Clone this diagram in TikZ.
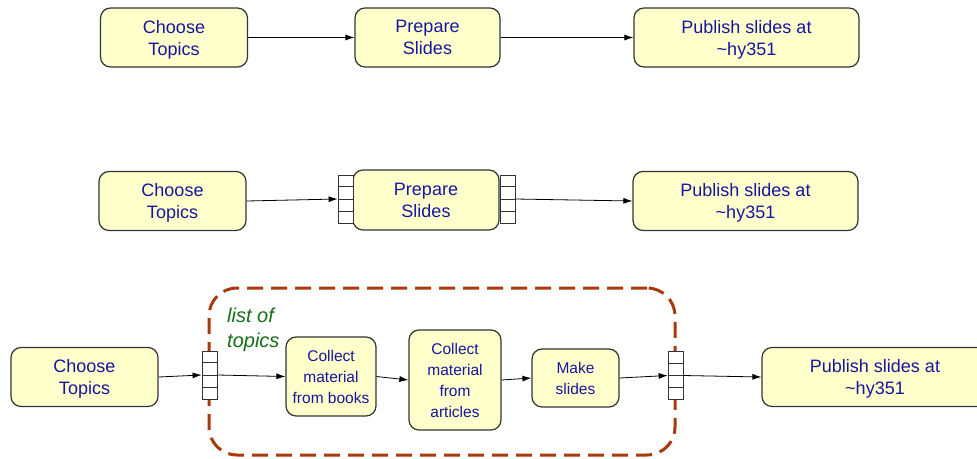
\documentclass[tikz,border=0pt]{standalone}
\usepackage{fontspec}
\setmainfont{Liberation Sans}
\usetikzlibrary{arrows.meta,calc}
\definecolor{boxfill}{HTML}{FFFFCC}
\definecolor{boxline}{HTML}{333333}
\definecolor{txtblue}{RGB}{22,22,160}
\definecolor{grpbrown}{RGB}{168,58,12}
\definecolor{lblgreen}{RGB}{20,110,20}
\newcommand\qcells[1]{\foreach \k in {1,2,3}{\draw[black!80, line width=0.8pt] ($(#1.north west)!\k/4!(#1.south west)$) -- ($(#1.north east)!\k/4!(#1.south east)$);}}
\begin{document}
\begin{tikzpicture}[x=1pt,y=-1pt,
  proc/.style={draw=boxline, line width=1.2pt, fill=boxfill, rounded corners=10pt, text=txtblue, align=center, inner sep=0pt, text depth=0pt, font=\fontsize{18}{22}\selectfont},
  big/.style={proc, minimum width=147pt, minimum height=59pt},
  pub/.style={proc, minimum width=225pt, minimum height=59pt},
  small/.style={proc, font=\fontsize{15.5}{21}\selectfont},
  queue/.style={draw=black!80, fill=white, line width=0.8pt, minimum width=15pt, minimum height=48pt, inner sep=0pt},
  flow/.style={-{Latex[length=9pt,width=6pt]}, line width=0.8pt},
  grp/.style={draw=grpbrown, line width=3pt, dash pattern=on 16pt off 8pt, rounded corners=28pt, inner sep=0pt}]
\path[use as bounding box, fill=white] (0,0) rectangle (977,458);

% row 1
\node[big] (ct1) at (174,37.5) {Choose\\Topics};
\node[big, minimum width=145pt] (ps1) at (427.5,37.5) {Prepare\\Slides};
\node[pub] (pb1) at (746.5,37.5) {Publish slides at\\\textasciitilde hy351};
\draw[flow] (ct1) -- (ps1);
\draw[flow] (ps1) -- (pb1);

% row 2
\node[big] (ct2) at (172.5,201) {Choose\\Topics};
\node[big, minimum width=146pt, minimum height=60pt] (ps2) at (426,200) {Prepare\\Slides};
\node[pub] (pb2) at (745.5,201) {Publish slides at\\\textasciitilde hy351};
\node[queue] (ql2) at (345.5,199) {};
\node[queue] (qr2) at (507.5,199) {};
\qcells{ql2}\qcells{qr2}
\draw[flow] (ct2.east) -- (ql2.west);
\draw[flow] (qr2.east) -- (pb2.west);

% row 3
\node[grp, minimum width=466pt, minimum height=167pt] (grp) at (442,371.5) {};
\node[big] (ct3) at (84.5,377) {Choose\\Topics};
\node[small, minimum width=90pt, minimum height=79pt] (cb) at (331,376.5) {Collect\\material\\from books};
\node[small, minimum width=92pt, minimum height=100pt] (ca) at (455,380) {Collect\\material\\from\\articles};
\node[small, minimum width=87pt, minimum height=58pt] (ms) at (575.5,378) {Make\\slides};
\node[pub, minimum width=226pt] (pb3) at (875,377) {Publish slides at\\\textasciitilde hy351};
\node[queue] (ql3) at (209.5,375) {};
\node[queue] (qr3) at (675.5,375.5) {};
\qcells{ql3}\qcells{qr3}
\node[anchor=north west, inner sep=0pt, align=left, text=lblgreen, font=\fontsize{20}{25}\selectfont\itshape] (lot) at (227,308) {list of\\topics};
\draw[flow] (ct3.east) -- (ql3.west);
\draw[flow] (ql3.east) -- (cb.west);
\draw[flow] (cb.east) -- (ca.west);
\draw[flow] (ca.east) -- (ms.west);
\draw[flow] (ms.east) -- (qr3.west);
\draw[flow] (qr3.east) -- (pb3.west);
\end{tikzpicture}
\end{document}
